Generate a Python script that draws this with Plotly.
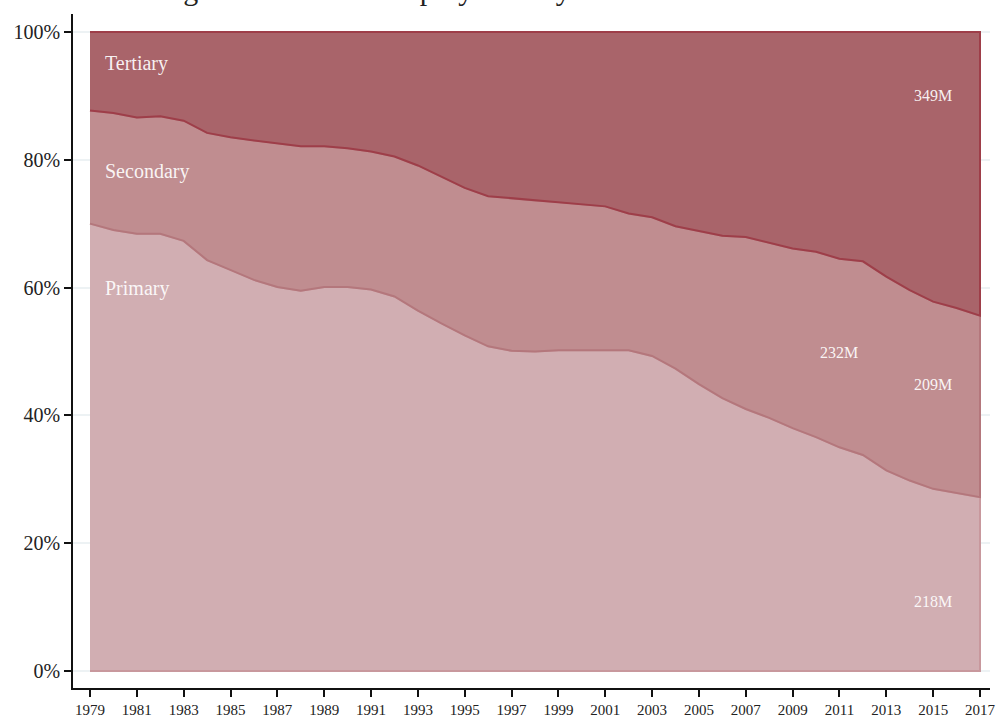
import numpy as np
import plotly.graph_objects as go

years = list(range(1979, 2018))

# employment shares by sector, % of total
primary = [70.0, 69.0, 68.4, 68.4, 67.3, 64.3, 62.8, 61.2, 60.1, 59.5,
           60.1, 60.1, 59.7, 58.6, 56.4, 54.4, 52.5, 50.8, 50.1, 50.0,
           50.2, 50.2, 50.2, 50.2, 49.3, 47.3, 44.9, 42.7, 41.0, 39.6,
           38.0, 36.6, 35.0, 33.8, 31.4, 29.8, 28.5, 27.8, 27.2]
secondary = [17.7, 18.3, 18.2, 18.4, 18.8, 19.9, 20.7, 21.8, 22.4, 22.6,
             22.0, 21.7, 21.6, 21.9, 22.7, 22.9, 23.1, 23.5, 23.8, 23.6,
             23.2, 22.8, 22.5, 21.4, 21.7, 22.3, 23.9, 25.4, 26.9, 27.4,
             28.1, 29.0, 29.5, 30.3, 30.3, 29.8, 29.3, 29.0, 28.4]
tertiary = [12.3, 12.7, 13.4, 13.2, 13.9, 15.8, 16.5, 17.0, 17.5, 17.9,
            17.9, 18.2, 18.7, 19.5, 20.9, 22.7, 24.4, 25.7, 26.1, 26.4,
            26.6, 27.0, 27.3, 28.4, 29.0, 30.4, 31.2, 31.9, 32.1, 33.0,
            33.9, 34.4, 35.5, 35.9, 38.3, 40.4, 42.2, 43.2, 44.4]

sectors = ["Primary", "Secondary", "Tertiary"]
value_labels = ["218M", "232M", "209M", "349M"]

fills = ["#d1aeb2", "#c08d90", "#a9646a"]
edges = ["#c8989d", "#b4777c", "#9e3e49"]

FONT = "Liberation Serif"

fig = go.Figure()

stack = np.vstack([primary, secondary, tertiary])
upper = np.cumsum(stack, axis=0)
lower = upper - stack

for i, name in enumerate(sectors):
    xs = years + years[::-1]
    ys = list(upper[i]) + list(lower[i][::-1])
    fig.add_trace(go.Scatter(
        x=xs, y=ys, name=name, mode="lines",
        fill="toself", fillcolor=fills[i],
        line=dict(color=edges[i], width=2),
        hoverinfo="skip", showlegend=False,
    ))

# sector names on the left
for name, yv in zip(sectors, [59.9, 78.1, 95.0]):
    fig.add_annotation(x=1979.55, y=yv, text=name, showarrow=False,
                       xanchor="left", yanchor="middle",
                       font=dict(family=FONT, size=20, color="rgba(255,255,255,0.92)"))

# headcount labels
for txt, xv, yv in zip(value_labels, [2015, 2011, 2015, 2015], [10.8, 49.9, 44.9, 90.0]):
    fig.add_annotation(x=xv, y=yv, text=txt, showarrow=False,
                       font=dict(family=FONT, size=16, color="rgba(255,255,255,0.92)"))

# title sits mostly above the visible page
fig.add_annotation(xref="paper", yref="paper", x=0.005, y=1.009,
                   xanchor="left", yanchor="bottom", showarrow=False,
                   text="Percentage share of total employment by sector",
                   font=dict(family=FONT, size=30, color="#222"))

fig.update_layout(
    width=997, height=718,
    margin=dict(l=73, r=7, t=14, b=30),
    plot_bgcolor="white", paper_bgcolor="white",
    font=dict(family=FONT, color="#222"),
)
fig.update_xaxes(
    range=[1978.274, 2017.427], tickvals=years[::2], automargin=False,
    ticks="outside", ticklen=7, tickcolor="#111", tickwidth=1.5,
    showline=True, linecolor="#111", linewidth=1.5,
    showgrid=False, zeroline=False, ticklabeloverflow="allow",
    tickfont=dict(family=FONT, size=15, color="#222"),
)
fig.update_yaxes(
    range=[-2.66, 102.8], tickvals=[0, 20, 40, 60, 80, 100], automargin=False,
    ticktext=["0%", "20%", "40%", "60%", "80%", "100%"],
    ticks="outside", ticklen=7, tickcolor="#111", tickwidth=1.5,
    showline=True, linecolor="#111", linewidth=1.5,
    showgrid=True, gridcolor="#edf2f4", gridwidth=1.5, zeroline=False,
    tickfont=dict(family=FONT, size=20, color="#222"),
)

# drop the default page margin so the figure fills the window exactly
fig.write_html("out.html", config={"displayModeBar": False},
               post_script="document.body.style.margin='0';document.body.style.overflow='hidden';")
